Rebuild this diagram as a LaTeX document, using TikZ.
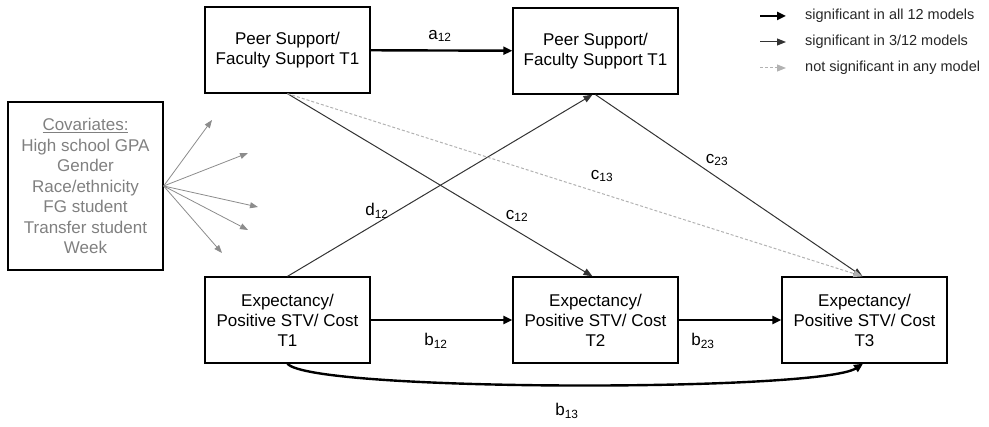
\documentclass[tikz,border=0pt]{standalone}
\usepackage{fontspec}
\setmainfont{Liberation Sans}
\usetikzlibrary{arrows.meta}

\begin{document}
\begin{tikzpicture}
  [x=1pt,y=-1pt,
   box/.style={draw, line width=1.3pt, minimum width=165pt, minimum height=86pt,
     inner sep=0pt, align=center, font=\fontsize{17}{20}\selectfont},
   covbox/.style={draw, line width=1.3pt, minimum width=155pt, minimum height=168pt,
     inner sep=0pt, align=center, text=black!50, font=\fontsize{17}{20.5}\selectfont},
   lbl/.style={inner sep=0pt, font=\fontsize{17}{20}\selectfont},
   key/.style={inner sep=0pt, anchor=west, text=black!85, font=\fontsize{14.5}{16}\selectfont},
   strong/.style={line width=2.4pt, -{Triangle[length=9pt,width=8pt]}},
   medium/.style={line width=1pt, black!80, -{Triangle[length=9pt,width=7pt]}},
   weak/.style={line width=1pt, black!30, dash pattern=on 3pt off 2pt, -{Triangle[length=9pt,width=7pt]}},
   covarrow/.style={line width=0.8pt, black!45, -{Triangle[length=8pt,width=6pt]}}]

  \useasboundingbox (0,0) rectangle (989,427);

  % boxes
  \node[box] (p1) at (287.5,50)  {Peer Support/\\Faculty Support T1};
  \node[box] (p2) at (595.5,51)  {Peer Support/\\Faculty Support T1};
  \node[box] (e1) at (287.5,320) {Expectancy/\\Positive STV/ Cost\\T1};
  \node[box] (e2) at (595.5,320) {Expectancy/\\Positive STV/ Cost\\T2};
  \node[box] (e3) at (864.5,320) {Expectancy/\\Positive STV/ Cost\\T3};
  \node[covbox] (cov) at (85.5,186)
    {\underline{Covariates:}\\High school GPA\\Gender\\Race/ethnicity\\FG student\\Transfer student\\Week};

  % paths
  \draw[strong] (p1) -- (p2);
  \draw[strong] (e1) -- (e2);
  \draw[strong] (e2) -- (e3);
  \draw[strong] (e1.south) .. controls (310,392) and (820,392) .. ([xshift=-1.5pt]e3.south);
  \draw[medium] (p1.south) -- ([xshift=-3pt]e2.north);
  \draw[medium] (e1.north) -- ([xshift=-3pt]p2.south);
  \draw[medium] (p2.south) -- ([xshift=-2pt]e3.north);
  \draw[weak] (p1.south) -- ([xshift=-2pt]e3.north);

  % labels
  \node[lbl] (la12) at (440,36)  {a\textsubscript{12}};
  \node[lbl] (lb12) at (436,341) {b\textsubscript{12}};
  \node[lbl] (lb23) at (703,341) {b\textsubscript{23}};
  \node[lbl] (lb13) at (567,411) {b\textsubscript{13}};
  \node[lbl] (lc12) at (517,216) {c\textsubscript{12}};
  \node[lbl] (lc13) at (602,176) {c\textsubscript{13}};
  \node[lbl] (lc23) at (717,160) {c\textsubscript{23}};
  \node[lbl] (ld12) at (377,211) {d\textsubscript{12}};

  % covariates
  \coordinate (k1) at (212,120);
  \coordinate (k2) at (248,153);
  \coordinate (k3) at (258,207);
  \coordinate (k4) at (248,230);
  \coordinate (k5) at (222,253);
  \foreach \to in {k1,k2,k3,k4,k5}
    \draw[covarrow] (cov.east) -- (\to);

  % legend
  \foreach \y/\s/\txt in {16/strong/{significant in all 12 models},
                          42/medium/{significant in 3/12 models},
                          68/weak/{not significant in any model}} {
    \coordinate (a\y) at (760,\y);
    \coordinate (b\y) at (786,\y);
    \draw[\s] (a\y) -- (b\y);
    \node[key] (t\y) at (805,\y) {\txt};
  }

\end{tikzpicture}
\end{document}
